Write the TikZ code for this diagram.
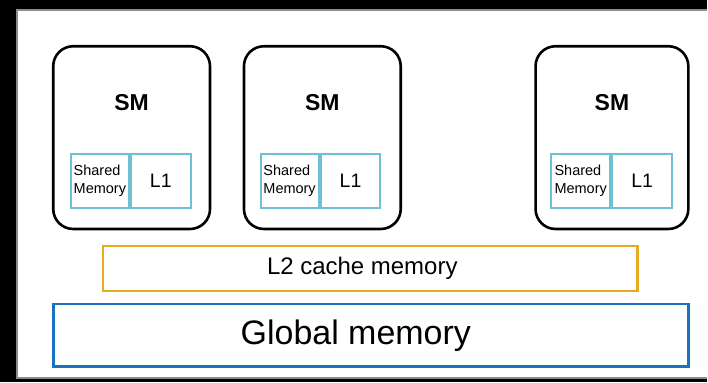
\documentclass[tikz,border=0pt]{standalone}
\usepackage{fontspec}
\setmainfont{Liberation Sans}
\usetikzlibrary{positioning}

\definecolor{framegray}{RGB}{140,140,140}
\definecolor{cellblue}{RGB}{112,192,212}
\definecolor{ltwogold}{RGB}{230,172,32}
\definecolor{globalblue}{RGB}{28,114,190}

\begin{document}
\begin{tikzpicture}[x=1pt,y=-1pt,
    smbox/.style={draw,line width=2.6pt,rounded corners=20pt,anchor=north west,
      minimum width=#1,minimum height=183pt,inner sep=0pt},
    smtext/.style={font=\fontsize{23}{26}\selectfont\bfseries},
    cell/.style={draw=cellblue,line width=2pt,anchor=north west,minimum height=54pt,
      inner sep=1pt,align=left},
    memtext/.style={font=\fontsize{14.5}{18}\selectfont},
    l1text/.style={font=\fontsize{19.5}{22}\selectfont},
    membox/.style={line width=2.6pt,anchor=north west,inner sep=0pt}]
        % background and frame
        \fill[black] (0,0) rectangle (708,383);
        \fill[white] (17,10) rectangle (708,379);
        \draw[framegray,line width=2pt] (708,10) -| (17,379) -- (708,379);

        % streaming multiprocessors
        \node[smbox=157pt] (sm1) at (52,45) {};
        \node[smbox=157pt] (sm2) at (243,45) {};
        \node[smbox=153pt] (sm3) at (535,45) {};
        \node[smtext] at ([yshift=-58pt]sm1.north) {SM};
        \node[smtext] at ([yshift=-58pt]sm2.north) {SM};
        \node[smtext] at ([yshift=-58pt]sm3.north) {SM};

        % shared memory and L1 inside each SM
        \node[cell,memtext,minimum width=58pt] (shm1) at (70,153) {Shared\\Memory};
        \node[cell,l1text,minimum width=60pt,right=0pt of shm1] (lone1) {L1};
        \node[cell,memtext,minimum width=58pt] (shm2) at (260,153) {Shared\\Memory};
        \node[cell,l1text,minimum width=60pt,right=0pt of shm2] (lone2) {L1};
        \node[cell,memtext,minimum width=59pt] (shm3) at (551,153) {Shared\\Memory};
        \node[cell,l1text,minimum width=60pt,right=0pt of shm3] (lone3) {L1};

        % cache and global memory
        \node[membox,draw=ltwogold,minimum width=535pt,minimum height=45pt,
          label={[font=\fontsize{24}{28}\selectfont,xshift=-8pt]center:L2 cache memory}]
          (ltwo) at (102,245) {};
        \node[membox,draw=globalblue,minimum width=636pt,minimum height=63pt,
          label={[font=\fontsize{34}{40}\selectfont,xshift=-15pt]center:Global memory}]
          (gmem) at (52,303) {};
      \end{tikzpicture}
\end{document}
